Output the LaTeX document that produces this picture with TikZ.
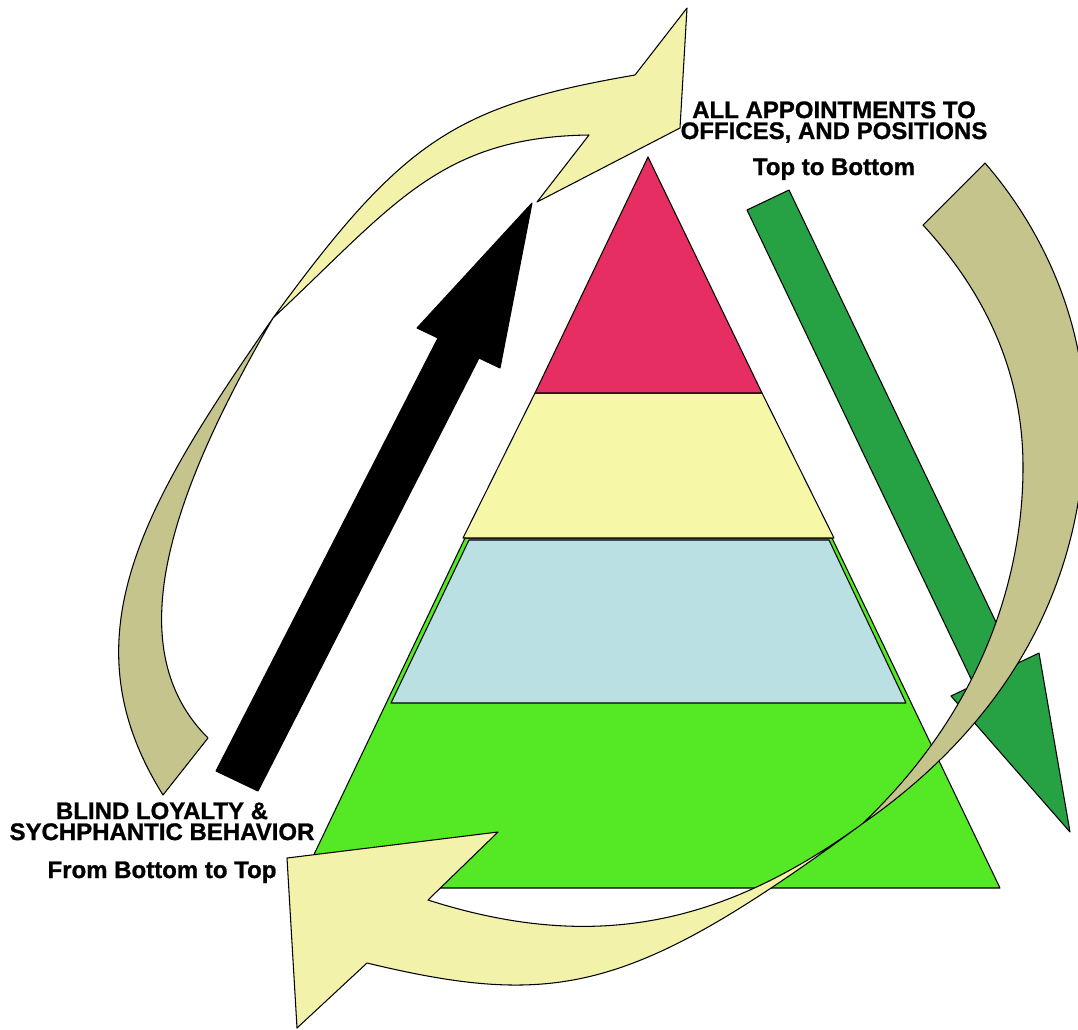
\documentclass[tikz,border=0pt]{standalone}
\usepackage{fontspec}
\setmainfont{Liberation Sans}
\newfontfamily\heavyfont[FakeBold=1]{Liberation Sans}
\usetikzlibrary{positioning}
\definecolor{pyrred}{RGB}{230,46,98}
\definecolor{pyryellow}{RGB}{247,247,168}
\definecolor{pyrblue}{RGB}{187,224,227}
\definecolor{pyrgreen}{RGB}{85,232,36}
\definecolor{arrgreen}{RGB}{38,162,69}
\definecolor{ribyellow}{RGB}{242,242,170}
\definecolor{ribtan}{RGB}{196,196,140}
\begin{document}
\begin{tikzpicture}[
        x=0.02cm, y=-0.02cm,
        layer/.style={draw=black, line width=0.6pt, line join=round},
        lbl/.style={font=\heavyfont\bfseries\fontsize{13.66}{11.9}\selectfont, inner sep=0pt, align=center}
    ]
        \clip (0,0) rectangle (1078,1029);

        % pyramid
        \draw[layer, fill=pyrgreen] (465,538) -- (832,538) -- (1000,888) -- (298,888) -- cycle;
        \draw[layer, fill=pyrblue] (469,540) -- (829,540) -- (906,703) -- (391,703) -- cycle;
        \draw[layer, fill=pyryellow] (535,393) -- (762,393) -- (834,538) -- (463,538) -- cycle;
        \draw[layer, fill=pyrred] (648,157) -- (762,393) -- (535,393) -- cycle;

        % straight arrows
        \draw[layer, fill=black] (216,771) -- (438,338) -- (417,328) -- (532,203) -- (500,368) -- (479,358) -- (258,791) -- cycle;
        \draw[layer, fill=arrgreen] (747,210) -- (974,685) -- (951,696) -- (1070,832) -- (1039,653) -- (1016,664) -- (789,190) -- cycle;

        % left ribbon
        \draw[layer, fill=ribtan] (273,318) .. controls (144,504) and (64,637) .. (163,795)
            -- (208,738) .. controls (120.5,650.5) and (165,504) .. (273,318) -- cycle;
        \draw[layer, fill=ribyellow] (273,318) .. controls (403,140) and (455,106) .. (635,75)
            -- (687,8) -- (680,128) -- (537,202) -- (589,135)
            .. controls (439,137) and (393,206) .. (273,318) -- cycle;

        % right ribbon
        \draw[layer, fill=ribtan] (985,163) .. controls (1049,237) and (1085,330) .. (1085,420)
            .. controls (1085,570) and (1020,714) .. (862,824)
            .. controls (982.5,710) and (1023,577) .. (1023,467)
            .. controls (1023,377) and (989,297) .. (923,225) -- cycle;
        \draw[layer, fill=ribyellow] (862,824) .. controls (722,925.5) and (593.6,952.9) .. (428,900)
            -- (498,832) -- (287,858) -- (297,1028) -- (367,963)
            .. controls (557,1008.6) and (632,993) .. (862,824) -- cycle;

        % labels
        \node[lbl, anchor=north] (appt) at (834,101) {ALL APPOINTMENTS TO\\OFFICES, AND POSITIONS};
        \node[lbl, anchor=base] (topdown) at (834,175) {Top to Bottom};
        \node[lbl, anchor=north] (loyal) at (162,802) {BLIND LOYALTY \&\\SYCHPHANTIC BEHAVIOR};
        \node[lbl, anchor=base] (bottomup) at (162,878) {From Bottom to Top};
    \end{tikzpicture}
\end{document}
